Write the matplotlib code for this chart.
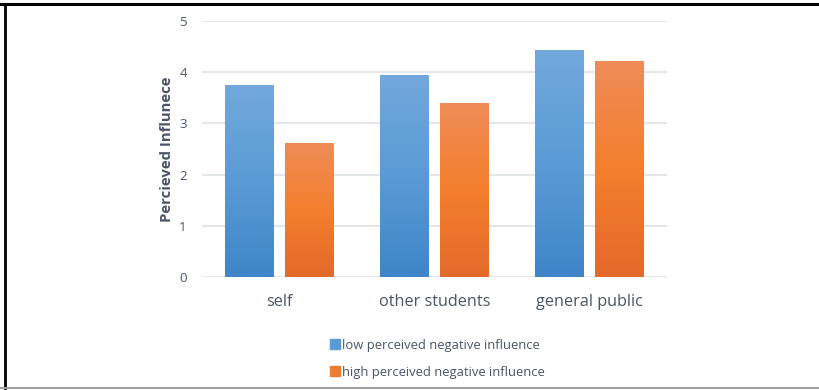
import numpy as np
import matplotlib.pyplot as plt
from matplotlib.colors import LinearSegmentedColormap
from matplotlib.lines import Line2D

categories = ["self", "other students", "general public"]
low_influence = [3.75, 3.95, 4.43]
high_influence = [2.62, 3.40, 4.22]
series_names = ["low perceived negative influence", "high perceived negative influence"]

TEXT = "#4a5466"
plt.rcParams['font.family'] = ['Open Sans', 'DejaVu Sans']

# bottom -> top gradient stops for each series
blue_cmap = LinearSegmentedColormap.from_list("blue", ["#3f85c7", "#5a9bd5", "#72a8dc"])
orange_cmap = LinearSegmentedColormap.from_list("orange", ["#e3692a", "#f47f2d", "#ef8c58"])

fig = plt.figure(figsize=(8.19, 3.9), dpi=100)
ax = fig.add_axes([0.2466, 0.2897, 0.5678, 0.6563])

x = np.arange(len(categories))
width = 0.316
offset = 0.194


def gradient_bars(xs, heights, cmap):
    bars = ax.bar(xs, heights, width, color="none", zorder=3)
    grad = np.linspace(0, 1, 256).reshape(-1, 1)
    for b in bars:
        x0, y0 = b.get_x(), b.get_y()
        im = ax.imshow(grad, cmap=cmap, aspect="auto", origin="lower",
                       extent=[x0, x0 + b.get_width(), y0, y0 + b.get_height()],
                       zorder=3)
        im.set_clip_path(b)
    return bars


gradient_bars(x - offset, low_influence, blue_cmap)
gradient_bars(x + offset, high_influence, orange_cmap)

ax.set_xlim(-0.5, 2.5)
ax.set_ylim(0, 5)
ax.set_yticks(range(6))
ax.set_xticks(x)
ax.set_xticklabels(categories, fontsize=11.7, color=TEXT)
ax.tick_params(axis="y", labelsize=9.5, colors=TEXT, length=0, pad=11)
ax.tick_params(axis="x", length=0, pad=12)
ax.yaxis.grid(True, color="#e3e6eb", linewidth=1.5, zorder=0)
ax.set_axisbelow(True)
for s in ax.spines.values():
    s.set_visible(False)
ax.set_ylabel("Percieved Influnece", fontsize=10.7, fontweight="bold", color=TEXT, labelpad=4)

handles = [Line2D([], [], marker="s", linestyle="none", markersize=6.5, color=c)
           for c in ["#5b9bd5", "#ed7d31"]]
fig.legend(handles, series_names, loc="upper left", bbox_to_anchor=(0.396, 0.148),
           frameon=False, fontsize=9.4, labelcolor=TEXT, handlelength=0.6,
           handletextpad=0.25, labelspacing=1.07, borderpad=0)

# page frame: dark top and left edges, light bottom edge
fig.add_artist(Line2D([0, 1], [0.99, 0.99], transform=fig.transFigure, color="black", linewidth=2.2))
fig.add_artist(Line2D([0.006, 0.006], [0.006, 0.99], transform=fig.transFigure, color="black", linewidth=2))
fig.add_artist(Line2D([0, 1], [0.006, 0.006], transform=fig.transFigure, color="#a0a0a0", linewidth=1.5))

fig.savefig("out.png", dpi=100)
